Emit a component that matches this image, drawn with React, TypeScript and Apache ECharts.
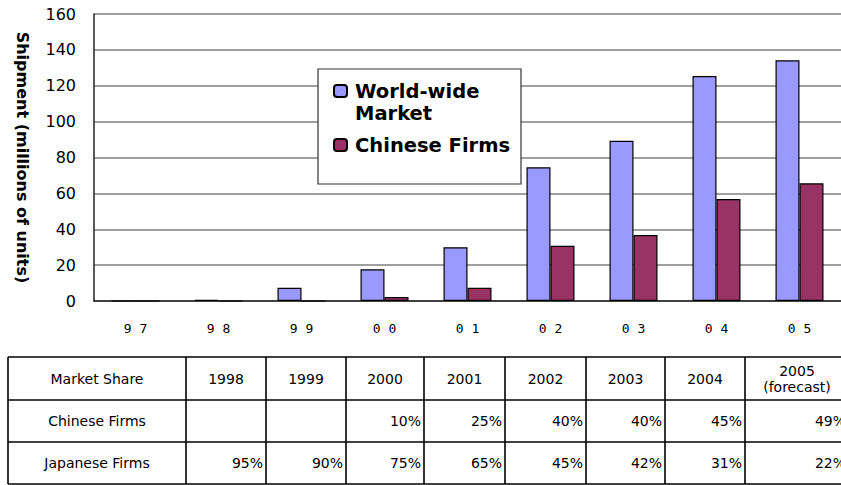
import React, { useEffect, useRef } from 'react';
import * as echarts from 'echarts';

// ---- chart data ----
const categories = ['97', '98', '99', '00', '01', '02', '03', '04', '05'];
const worldWideMarket = [0, 0.6, 7.4, 17.7, 30, 74.5, 89.3, 125.4, 134.2];
const chineseFirms = [0, 0, 0, 2.2, 7.4, 30.8, 36.8, 56.9, 65.6];
const seriesNames = ['World-wide Market', 'Chinese Firms'];
const yAxisTitle = 'Shipment (millions of units)';

// ---- table data ----
const tableHeader = ['Market Share', '1998', '1999', '2000', '2001', '2002', '2003', '2004', '2005\n(forecast)'];
const chineseShareRow = ['Chinese Firms', '', '', '10%', '25%', '40%', '40%', '45%', '49%'];
const japaneseShareRow = ['Japanese Firms', '95%', '90%', '75%', '65%', '45%', '42%', '31%', '22%'];

const BLUE = '#9999ff';
const RED = '#993366';

function buildTable() {
  const colX = [8, 186, 266, 346, 424, 505, 586, 665, 745, 849];
  const rowY = [357, 400, 442, 484];
  const els: any[] = [];
  rowY.forEach((y) => {
    els.push({ type: 'line', shape: { x1: colX[0], y1: y, x2: colX[colX.length - 1], y2: y }, style: { stroke: '#000', lineWidth: 1.6 } });
  });
  colX.forEach((x) => {
    els.push({ type: 'line', shape: { x1: x, y1: rowY[0], x2: x, y2: rowY[rowY.length - 1] }, style: { stroke: '#000', lineWidth: 1.6 } });
  });
  const font = '14px "DejaVu Sans"';
  const rows = [tableHeader, chineseShareRow, japaneseShareRow];
  rows.forEach((row, r) => {
    const cy = (rowY[r] + rowY[r + 1]) / 2;
    row.forEach((txt, c) => {
      if (!txt) return;
      const centered = r === 0 || c === 0;
      const x = centered ? (colX[c] + colX[c + 1]) / 2 : colX[c + 1] - 3;
      els.push({
        type: 'text',
        style: {
          text: txt,
          x,
          y: cy,
          align: centered ? 'center' : 'right',
          verticalAlign: 'middle',
          font,
          lineHeight: 16,
          fill: '#000',
        },
      });
    });
  });
  return els;
}

export default function App() {
  const ref = useRef<HTMLDivElement>(null);
  useEffect(() => {
    if (!ref.current) return;
    const chart = echarts.init(ref.current, undefined, { renderer: 'svg' });
    chart.setOption({
      animation: false,
      backgroundColor: '#fff',
      grid: { left: 94, top: 14, width: 753, height: 287, containLabel: false },
      legend: {
        orient: 'vertical',
        left: 333,
        top: 58,
        padding: 0,
        itemGap: 10,
        itemWidth: 13,
        itemHeight: 12,
        selectedMode: false,
        textStyle: { fontFamily: 'DejaVu Sans', fontWeight: 'bold', fontSize: 19.5, lineHeight: 22, color: '#000', padding: [0, 0, 0, 3] },
        formatter: (name: string) => (name === seriesNames[0] ? ' \nWorld-wide\nMarket' : name),
        data: [seriesNames[0], seriesNames[1]],
      },
      xAxis: {
        type: 'category',
        data: categories,
        axisLine: { lineStyle: { color: '#222', width: 1.5 } },
        axisTick: { inside: true, length: 6, lineStyle: { color: '#000', width: 1.2 } },
        axisLabel: {
          margin: 21,
          fontFamily: 'DejaVu Sans Mono',
          fontSize: 13,
          color: '#000',
          formatter: (v: string) => v.split('').join(' '),
        },
      },
      yAxis: {
        type: 'value',
        min: 0,
        max: 160,
        interval: 20,
        name: yAxisTitle,
        nameLocation: 'middle',
        nameRotate: -90,
        nameGap: 64,
        nameTextStyle: { fontFamily: 'DejaVu Sans', fontWeight: 'bold', fontSize: 16, color: '#000' },
        axisLine: { show: true, lineStyle: { color: '#222', width: 1.5 } },
        axisTick: { show: false },
        axisLabel: { margin: 18, fontFamily: 'DejaVu Sans', fontSize: 16, color: '#000' },
        splitLine: { lineStyle: { color: '#808080', width: 1.5 } },
      },
      series: [
        {
          name: seriesNames[0],
          type: 'bar',
          data: worldWideMarket,
          barWidth: 24,
          barGap: '0%',
          itemStyle: { color: BLUE, borderColor: '#000', borderWidth: 1.2 },
        },
        {
          name: seriesNames[1],
          type: 'bar',
          data: chineseFirms,
          barWidth: 24,
          barGap: '0%',
          itemStyle: { color: RED, borderColor: '#000', borderWidth: 1.2 },
        },
      ],
      graphic: [
        {
          type: 'rect',
          z: 3,
          shape: { x: 318, y: 69, width: 203, height: 115 },
          style: { fill: '#fff', stroke: '#333', lineWidth: 1.2 },
        },
        ...buildTable(),
      ],
    });
    return () => chart.dispose();
  }, []);
  return <div ref={ref} style={{ position: 'absolute', left: 0, top: 0, width: 841, height: 485 }} />;
}
